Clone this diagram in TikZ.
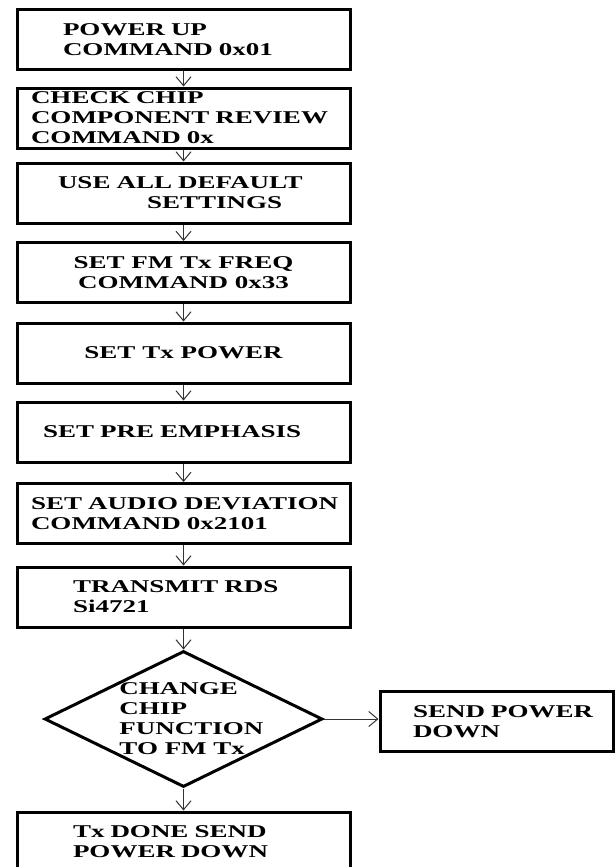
\documentclass[tikz,border=0pt]{standalone}
\usepackage{fontspec}
\newfontfamily\boxfont{Liberation Serif}[FakeStretch=1.5]
\usetikzlibrary{shapes.geometric,arrows.meta}
\hyphenpenalty=10000
\exhyphenpenalty=10000

\tikzset{
  box/.style={draw, line width=3pt, minimum width=333pt, minimum height=60pt,
    inner ysep=0pt, align=left},
  decision/.style={draw, diamond, line width=3pt, minimum width=278pt,
    minimum height=136pt, inner sep=0pt},
  arrow/.style={-{Straight Barb[length=9pt,width=15pt]}, line width=1pt, black!80}
}

\begin{document}
\begin{tikzpicture}[x=1pt, y=-1pt,
    every node/.style={font=\boxfont\bfseries\fontsize{18pt}{20pt}\selectfont}]
  \useasboundingbox (0,0) rectangle (615,867);

  % Main column of steps
  \node[box, text width=241pt, inner xsep=46pt] (pwrup) at (183.5,40) {POWER UP\\COMMAND 0x01};
  \node[box, text width=305pt, inner xsep=14pt] (chkchip) at (183.5,118) {CHECK CHIP\\COMPONENT~REVIEW\\COMMAND 0x};
  \node[box, text width=251pt, inner xsep=41pt] (defaults) at (183.5,193) {USE~ALL~DEFAULT\\\hspace*{89pt}SETTINGS};
  \node[box, align=center] (setfreq) at (183.5,272.5) {SET FM Tx FREQ\\COMMAND 0x33};
  \node[box, align=center] (setpwr) at (183.5,353) {SET Tx POWER};
  \node[box, text width=281pt, inner xsep=26pt] (preemph) at (183.5,432) {SET PRE EMPHASIS};
  \node[box, text width=305pt, inner xsep=14pt] (audiodev) at (183.5,513.5) {SET~AUDIO~DEVIATION\\COMMAND 0x2101};
  \node[box, text width=221pt, inner xsep=56pt] (rds) at (183.5,597) {TRANSMIT RDS\\Si4721};

  % Decision and the two ends
  \node[decision] (chgfn) at (183.5,719) {};
  \node[align=left] (chgtxt) at ([xshift=8pt]chgfn.center) {CHANGE\\CHIP\\FUNCTION\\TO FM Tx};
  \node[box, minimum width=233pt, text width=167pt, inner xsep=33pt] (sendpd) at (496.5,721.5) {SEND~POWER\\DOWN};
  \node[box, text width=221pt, inner xsep=56pt] (txdone) at (183.5,842) {Tx DONE SEND\\POWER DOWN};

  % Arrows
  \draw[arrow] (pwrup) -- (chkchip);
  \draw[arrow] (chkchip) -- (defaults);
  \draw[arrow] (defaults) -- (setfreq);
  \draw[arrow] (setfreq) -- (setpwr);
  \draw[arrow] (setpwr) -- (preemph);
  \draw[arrow] (preemph) -- (audiodev);
  \draw[arrow] (audiodev) -- (rds);
  \draw[arrow] (rds) -- (chgfn);
  \draw[arrow] (chgfn.east) -- (chgfn.east -| sendpd.west);
  \draw[arrow] (chgfn) -- (txdone);
\end{tikzpicture}
\end{document}
